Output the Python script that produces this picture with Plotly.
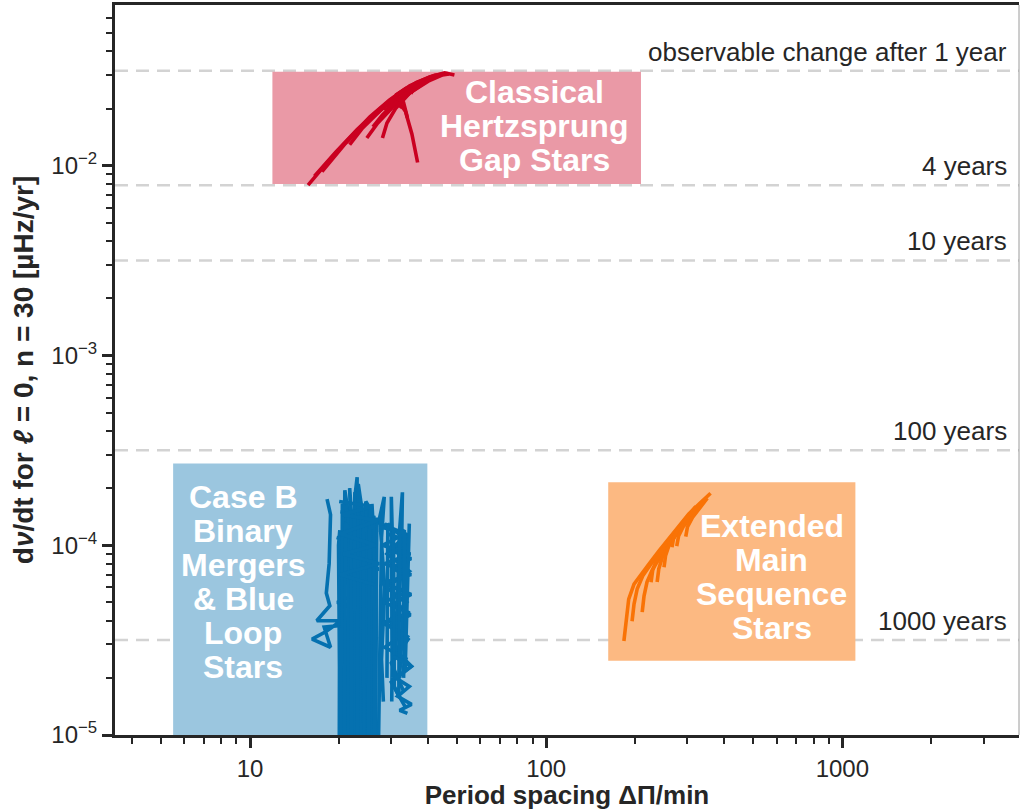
import numpy as np
import plotly.graph_objects as go

FONT = "Liberation Sans, Arial, Helvetica, sans-serif"
INK = "#262626"

# observability limits (dnu/dt resolvable after a given time baseline)
limit_values = [3.17e-2, 7.9e-3, 3.17e-3, 3.17e-4, 3.17e-5]
limit_labels = ["observable change after 1 year", "4 years", "10 years", "100 years", "1000 years"]

# Classical Hertzsprung gap stars (period spacing in min, dnu/dt in muHz/yr)
hg_x = [
    [15.7, 18.6, 21.7, 25.4, 29.6, 34.6, 40.4, 45.4, 49.0],
    [17.5, 21.0, 25.0, 29.0, 31.5, 33.5, 35.2, 36.8],
    [21.7, 24.0, 27.5, 32.0, 37.5, 43.0, 47.0],
    [24.8, 27.0, 30.5, 35.0, 40.0, 44.5],
    [28.0, 29.0, 31.0, 34.5, 39.0],
    [26.0, 28.0, 31.5, 36.0, 41.0],
    [29.0, 31.5, 33.0, 34.0],
    [31.0, 33.5, 35.6],
    [28.5, 31.0, 32.7],
    [16.5, 19.5, 23.0, 27.0, 31.5, 36.5, 42.0, 46.5],
]
hg_y = [
    [0.0079, 0.0108, 0.0140, 0.0181, 0.0222, 0.0264, 0.0294, 0.0309, 0.0301],
    [0.0093, 0.0131, 0.0172, 0.0210, 0.0222, 0.0193, 0.0147, 0.0104],
    [0.0129, 0.0158, 0.0195, 0.0237, 0.0275, 0.0298, 0.0304],
    [0.0140, 0.0168, 0.0205, 0.0245, 0.0279, 0.0300],
    [0.0140, 0.0168, 0.0200, 0.0240, 0.0275],
    [0.0160, 0.0185, 0.0222, 0.0260, 0.0288],
    [0.0205, 0.0228, 0.0215, 0.0179],
    [0.0235, 0.0255, 0.0242],
    [0.0195, 0.0215, 0.0202],
    [0.0088, 0.0118, 0.0155, 0.0195, 0.0238, 0.0275, 0.0300, 0.0306],
]

# Extended main sequence stars
ems_x = [
    [183, 186, 190, 198, 209, 222, 240, 260, 280, 303, 327, 359],
    [195, 198, 203, 212, 225, 242, 262, 285, 310, 340],
    [211, 214, 219, 228, 242, 262, 285, 310],
    [226, 229, 236, 248, 265, 290, 320],
    [237, 240, 247, 258, 275, 300],
    [250, 253, 260, 272, 290, 315],
    [266, 269, 277, 290, 310],
    [276, 280, 290, 305, 325],
    [296, 300, 312, 330, 350],
]
ems_y = [
    [3.13e-5, 4.08e-5, 5.2e-5, 6.24e-5, 7.03e-5, 7.94e-5, 9.3e-5, 1.09e-4, 1.26e-4, 1.46e-4, 1.64e-4, 1.88e-4],
    [3.98e-5, 4.9e-5, 5.9e-5, 6.9e-5, 7.9e-5, 9.2e-5, 1.08e-4, 1.27e-4, 1.49e-4, 1.72e-4],
    [4.44e-5, 5.4e-5, 6.4e-5, 7.4e-5, 8.6e-5, 1.04e-4, 1.24e-4, 1.47e-4],
    [6.39e-5, 7.4e-5, 8.4e-5, 9.5e-5, 1.1e-4, 1.33e-4, 1.60e-4],
    [6.4e-5, 7.5e-5, 8.7e-5, 9.9e-5, 1.16e-4, 1.40e-4],
    [7.66e-5, 8.8e-5, 1.0e-4, 1.12e-4, 1.29e-4, 1.53e-4],
    [9.76e-5, 1.08e-4, 1.19e-4, 1.3e-4, 1.48e-4],
    [9.9e-5, 1.12e-4, 1.25e-4, 1.39e-4, 1.58e-4],
    [1.11e-4, 1.25e-4, 1.4e-4, 1.57e-4, 1.77e-4],
]

# Case B binary mergers & blue loop stars
bm_x = [
    [18.2, 18.7, 18.5, 18.1, 18.6, 16.8, 20.3, 18.0, 16.2, 18.7, 17.8, 21.0, 21.3],
    [22.0, 22.5, 22.9, 23.0, 22.6, 22.8, 23.2, 22.7, 22.9],
    [20.6, 20.8, 21.0, 20.9, 21.3, 21.5, 21.2, 21.4],
    [21.7, 23.5, 26.0, 29.0, 32.0, 33.8, 33.5, 33.0],
    [29.0, 34.5, 29.5, 35.0, 30.0, 34.0, 29.0, 35.0, 30.5, 34.8, 29.8, 34.0, 31.0, 35.1, 30.0, 33.5],
    [27.0, 27.5, 27.8, 28.4, 27.4, 28.5, 27.8, 28.2],
    [31.0, 31.5, 32.0, 32.7, 32.5, 33.0, 32.0],
    [20.2, 26.5, 20.5, 27.0, 20.3, 26.0, 21.0, 27.2, 20.4, 25.5, 20.8, 26.8, 21.2, 27.0],
    [24.5, 24.8, 25.0, 24.6, 25.2],
    [26.0, 26.2, 25.8, 26.4, 26.1],
    [20.0, 20.1, 19.9, 20.2],
    [28.5, 33.0, 29.0, 34.5, 28.8, 33.8, 29.5, 34.2, 30.0, 33.0],
    [21.8, 22.0, 21.7, 22.2, 21.9],
    [23.8, 24.0, 23.6, 24.2, 23.9],
    [30.2, 30.0, 30.4, 30.1],
    [19.6, 25.0, 19.8, 26.0, 20.0, 24.5, 19.7, 25.5, 20.1],
    [20.3, 20.5, 21.4, 21.6, 22.4, 22.6, 23.4, 23.6, 24.4, 24.6, 25.5, 25.7, 26.5, 26.8],
    [20.8, 21.0, 21.9, 22.1, 23.0, 23.2, 24.1, 24.3, 25.1, 25.3, 26.2, 26.4, 27.3],
    [20.0, 26.0, 20.4, 27.0, 20.2, 26.5, 20.6, 27.3, 20.1, 26.2],
    [27.5, 33.5, 28.0, 34.8, 28.5, 35.0, 27.8, 34.0, 28.2, 34.6, 28.0, 33.0, 28.5, 34.0],
    [29.0, 29.2, 30.5, 30.7, 31.8, 32.0, 33.2, 33.4, 34.5],
    [30.5, 35.0, 31.0, 34.5, 31.5, 35.1, 32.0, 34.0],
]
bm_y = [
    [1.75e-4, 1.45e-4, 8e-5, 5.6e-5, 4.8e-5, 4.0e-5, 4.0e-5, 3.5e-5, 3.2e-5, 2.9e-5, 3.7e-5, 3.8e-5, 5e-6],
    [5e-6, 5e-5, 1.2e-4, 2.28e-4, 1.8e-4, 8e-5, 3e-5, 1.5e-5, 5e-6],
    [5e-6, 4e-5, 1.3e-4, 1.95e-4, 1.6e-4, 6e-5, 2e-5, 5e-6],
    [1.49e-4, 1.43e-4, 1.35e-4, 1.26e-4, 1.18e-4, 1.14e-4, 6e-5, 2e-5],
    [1.15e-4, 1.05e-4, 9.5e-5, 8.5e-5, 7.6e-5, 6.9e-5, 6.2e-5, 5.5e-5, 4.9e-5, 4.3e-5, 3.8e-5, 3.3e-5, 2.8e-5, 2.3e-5, 1.9e-5, 1.4e-5],
    [5e-6, 4e-5, 1.1e-4, 1.8e-4, 1.4e-4, 6e-5, 2.5e-5, 1.5e-5],
    [2.5e-5, 6e-5, 1.2e-4, 1.9e-4, 1.0e-4, 5e-5, 2e-5],
    [1.5e-4, 1.4e-4, 1.3e-4, 1.2e-4, 1.05e-4, 9.5e-5, 8.5e-5, 7.5e-5, 6.5e-5, 5.6e-5, 4.8e-5, 4.2e-5, 3.6e-5, 3.2e-5],
    [5e-6, 3e-5, 1.6e-4, 8e-5, 5e-6],
    [5e-6, 6e-5, 1.65e-4, 9e-5, 5e-6],
    [5e-6, 1.2e-4, 1.0e-4, 5e-6],
    [1.3e-4, 1.1e-4, 9e-5, 7.3e-5, 6e-5, 5e-5, 4e-5, 3.2e-5, 2.4e-5, 1.7e-5],
    [5e-6, 9e-5, 2.0e-4, 1.2e-4, 5e-6],
    [5e-6, 7e-5, 1.7e-4, 1.0e-4, 5e-6],
    [2.0e-5, 1.8e-4, 8e-5, 1.5e-5],
    [1.1e-4, 1.0e-4, 8.8e-5, 7.8e-5, 6.8e-5, 5.8e-5, 5.0e-5, 4.3e-5, 3.7e-5],
    [5e-6, 1.65e-4, 1.5e-4, 5e-6, 5e-6, 1.9e-4, 1.75e-4, 5e-6, 5e-6, 1.7e-4, 1.55e-4, 5e-6, 5e-6, 1.4e-4],
    [5e-6, 1.3e-4, 1.2e-4, 5e-6, 5e-6, 2.1e-4, 1.4e-4, 5e-6, 5e-6, 1.2e-4, 1.3e-4, 5e-6, 5e-6],
    [1.7e-4, 1.6e-4, 1.45e-4, 1.35e-4, 1.15e-4, 1.0e-4, 9e-5, 8e-5, 7e-5, 6.2e-5],
    [1.25e-4, 1.15e-4, 1.0e-4, 9e-5, 8e-5, 7e-5, 6.3e-5, 5.7e-5, 5e-5, 4.4e-5, 3.9e-5, 3.4e-5, 2.9e-5, 2.5e-5],
    [2e-5, 1.3e-4, 1.2e-4, 1.8e-5, 1.6e-5, 1.15e-4, 1.2e-4, 2.2e-5, 1.3e-4],
    [2.6e-5, 2.3e-5, 2.0e-5, 1.8e-5, 1.6e-5, 1.45e-5, 1.35e-5, 1.3e-5],
]

# shaded regions: (x0, x1, y0, y1)
hg_box = (11.9, 209, 0.0080, 0.0313)
bm_box = (5.5, 39.7, 5e-6, 2.7e-4)
ems_box = (162, 1107, 2.46e-5, 2.15e-4)

groups = [
    dict(xs=hg_x, ys=hg_y, box=hg_box, line="#ca0020", fill="#ea99a6",
         label=["Classical", "Hertzsprung", "Gap Stars"], at=(91.2, 0.01625)),
    dict(xs=bm_x, ys=bm_y, box=bm_box, line="#0571b0", fill="#9bc6df",
         label=["Case B", "Binary", "Mergers", "& Blue", "Loop", "Stars"], at=(9.47, 6.43e-5)),
    dict(xs=ems_x, ys=ems_y, box=ems_box, line="#f97306", fill="#fcb982",
         label=["Extended", "Main", "Sequence", "Stars"], at=(577, 6.8e-5)),
]

fig = go.Figure()

for v in limit_values:
    fig.add_hline(y=v, line=dict(color="#d3d3d3", width=2.5, dash="13px,8px"), layer="below")

for g in groups:
    x0, x1, y0, y1 = g["box"]
    fig.add_shape(type="rect", xref="x", yref="y", x0=x0, x1=x1, y0=y0, y1=y1,
                  fillcolor=g["fill"], line=dict(width=0), layer="below")
    for xs, ys in zip(g["xs"], g["ys"]):
        fig.add_trace(go.Scatter(x=xs, y=ys, mode="lines", showlegend=False,
                                 line=dict(color=g["line"], width=3.6)))
    n = len(g["label"])
    for i, txt in enumerate(g["label"]):
        fig.add_annotation(x=np.log10(g["at"][0]), y=np.log10(g["at"][1]), xref="x", yref="y",
                           text=f"<b>{txt}</b>", showarrow=False,
                           yshift=((n - 1) / 2 - i) * 34,
                           font=dict(family=FONT, size=32, color="white"))

for v, lab in zip(limit_values, limit_labels):
    fig.add_annotation(x=0.989, xref="paper", xanchor="right", y=np.log10(v), yref="y",
                       yanchor="bottom", yshift=2, text=lab, showarrow=False,
                       font=dict(family=FONT, size=26, color=INK))

# right frame edge (thin)
fig.add_shape(type="line", xref="paper", yref="paper", x0=1, x1=1, y0=0, y1=1,
              line=dict(color="#9a9a9a", width=1))

x_minor = [m * 10 ** e for e in range(0, 4) for m in range(2, 10) if 3.5 < m * 10 ** e < 3950]
y_minor = [m * 10.0 ** e for e in range(-5, -1) for m in range(2, 10) if m * 10.0 ** e < 0.07]

tick_style = dict(ticks="outside", tickcolor=INK, tickwidth=2.5, ticklen=10,
                  showline=True, linewidth=3, linecolor=INK, showgrid=False, zeroline=False,
                  tickfont=dict(family=FONT, size=24, color=INK), automargin=False)

fig.update_xaxes(type="log", range=[np.log10(3.5), np.log10(3950)],
                 tickmode="array", tickvals=[10, 100, 1000], ticktext=["10", "100", "1000"],
                 mirror=True,
                 minor=dict(tickmode="array", tickvals=x_minor, ticks="outside", ticklen=6,
                            tickwidth=2, tickcolor=INK, showgrid=False),
                 title=dict(text="<b>Period spacing ΔΠ/min</b>", standoff=6,
                            font=dict(family=FONT, size=26, color=INK)),
                 **tick_style)

fig.update_yaxes(type="log", range=[-5, np.log10(0.0703)],
                 tickmode="array", tickvals=[1e-5, 1e-4, 1e-3, 1e-2],
                 ticktext=["10<sup>−5</sup>", "10<sup>−4</sup>", "10<sup>−3</sup>", "10<sup>−2</sup>"],
                 minor=dict(tickmode="array", tickvals=y_minor, ticks="outside", ticklen=6,
                            tickwidth=2, tickcolor=INK, showgrid=False),
                 title=dict(text="<b>d<i>ν</i>/dt for <i>ℓ</i> = 0, n = 30 [µHz/yr]</b>", standoff=10,
                            font=dict(family=FONT, size=28, color=INK)),
                 **tick_style)

fig.update_layout(
    width=1020, height=810,
    margin=dict(l=115, r=1, t=5, b=75),
    plot_bgcolor="white", paper_bgcolor="white",
    font=dict(family=FONT, color=INK),
)

fig.write_html("out.html", config={"displayModeBar": False},
               post_script="document.body.style.margin='0';document.body.style.overflow='hidden';")
